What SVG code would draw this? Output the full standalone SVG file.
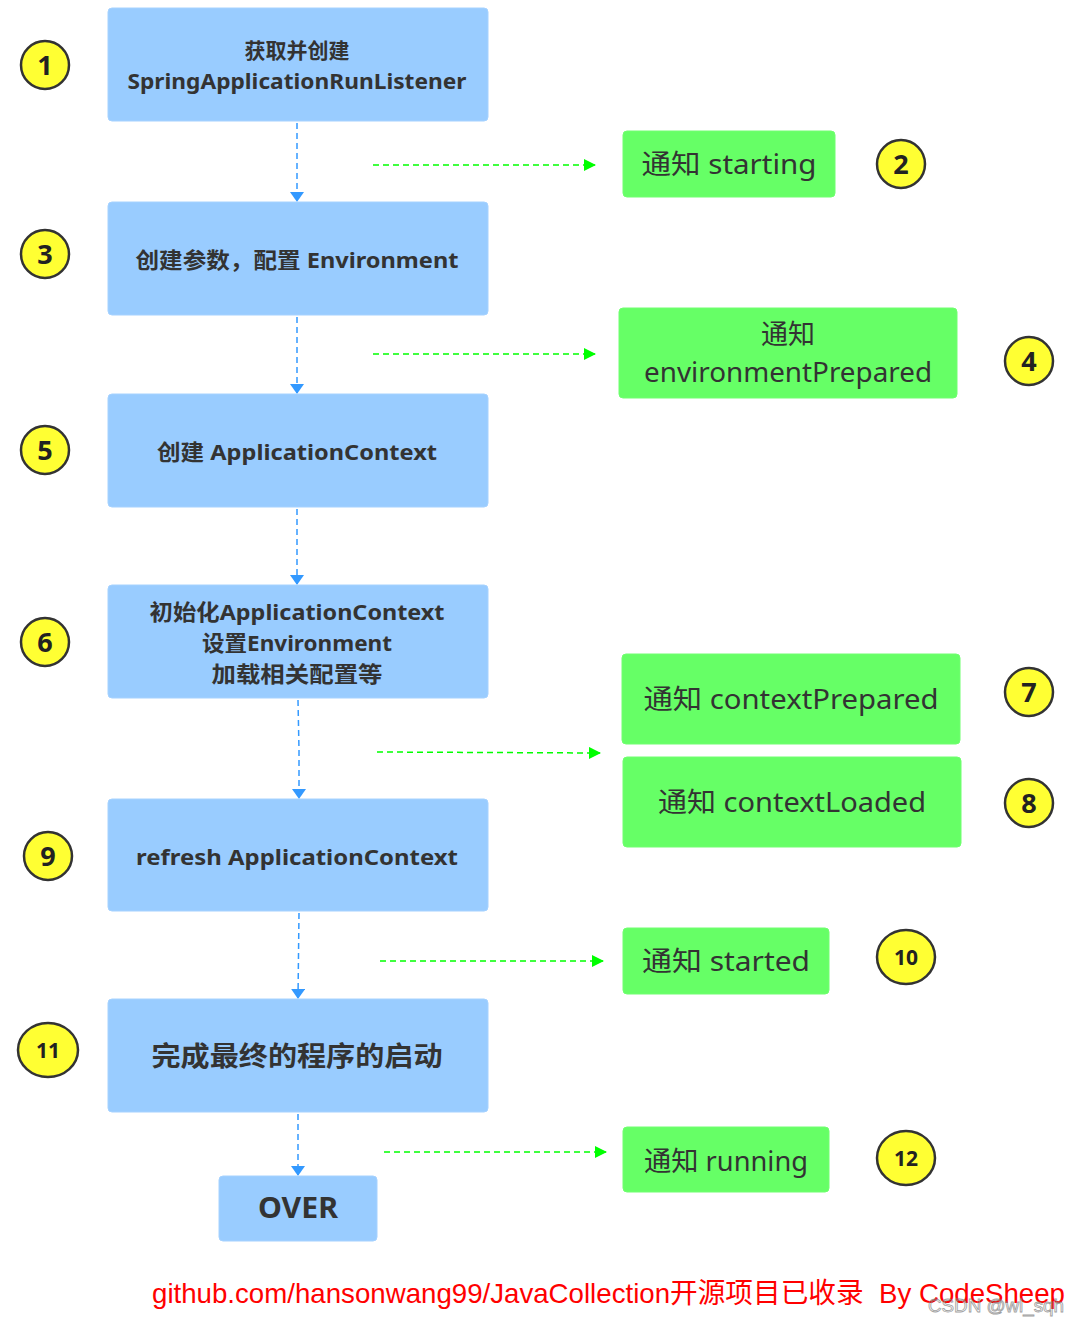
<svg xmlns="http://www.w3.org/2000/svg" width="1080" height="1322" viewBox="0 0 1080 1322">
<style>
.blue{fill:#99CCFF;stroke:#A6D2FF;stroke-width:1}
.green{fill:#66FF66;stroke:#70FF70;stroke-width:1}
.num{fill:#FFFF33;stroke:#333333;stroke-width:2.5}
.bt{font-family:"Noto Sans","Noto Sans CJK SC",sans-serif;font-weight:bold;fill:#333333;text-anchor:middle}
.gt{font-family:"Noto Sans","Noto Sans CJK SC",sans-serif;fill:#333333;text-anchor:middle}
.nt{font-family:"Noto Sans","DejaVu Sans",sans-serif;font-weight:bold;fill:#222222;text-anchor:middle}
.vl{stroke:#3399FF;stroke-width:1.5;stroke-dasharray:6,4;fill:none}
.hl{stroke:#00FF00;stroke-width:1.5;stroke-dasharray:6,4;fill:none}
</style>
<defs>
<marker id="ab" viewBox="0 0 10 14" refX="9" refY="7" markerWidth="10" markerHeight="14" markerUnits="userSpaceOnUse" orient="auto">
<path d="M0,0 L10,7 L0,14 Z" fill="#3399FF"/>
</marker>
<marker id="ag" viewBox="0 0 12 12" refX="11" refY="6" markerWidth="12" markerHeight="12" markerUnits="userSpaceOnUse" orient="auto">
<path d="M0,0 L12,6 L0,12 Z" fill="#00FF00"/>
</marker>
</defs>
<rect width="1080" height="1322" fill="#FFFFFF"/>
<g id="connectors">
<line class="vl" x1="297" y1="123" x2="297" y2="201" marker-end="url(#ab)"/>
<line class="vl" x1="297" y1="317" x2="297" y2="393" marker-end="url(#ab)"/>
<line class="vl" x1="297" y1="509" x2="297" y2="584" marker-end="url(#ab)"/>
<path class="vl" d="M298,700 L299,750 L299,798" marker-end="url(#ab)"/>
<line class="vl" x1="299" y1="913" x2="298" y2="998" marker-end="url(#ab)"/>
<line class="vl" x1="298" y1="1114" x2="298" y2="1175" marker-end="url(#ab)"/>
<line class="hl" x1="373" y1="165" x2="595" y2="165" marker-end="url(#ag)"/>
<line class="hl" x1="373" y1="354" x2="595" y2="354" marker-end="url(#ag)"/>
<line class="hl" x1="377" y1="752" x2="600" y2="753" marker-end="url(#ag)"/>
<line class="hl" x1="380" y1="961" x2="603" y2="961" marker-end="url(#ag)"/>
<line class="hl" x1="384" y1="1152" x2="606" y2="1152" marker-end="url(#ag)"/>
</g>
<g id="node1"><rect class="blue" x="108" y="8" width="380" height="113" rx="4"/>
<text class="bt" x="297" y="58" font-size="21">获取并创建</text>
<text class="bt" x="297" y="89" font-size="22" textLength="339" lengthAdjust="spacingAndGlyphs">SpringApplicationRunListener</text></g>
<g id="node3"><rect class="blue" x="108" y="202" width="380" height="113" rx="4"/>
<text class="bt" x="297" y="268" font-size="22" textLength="323" lengthAdjust="spacingAndGlyphs">创建参数，配置 Environment</text></g>
<g id="node5"><rect class="blue" x="108" y="394" width="380" height="113" rx="4"/>
<text class="bt" x="297" y="460" font-size="22" textLength="280" lengthAdjust="spacingAndGlyphs">创建 ApplicationContext</text></g>
<g id="node6"><rect class="blue" x="108" y="585" width="380" height="113" rx="4"/>
<text class="bt" x="297" y="620" font-size="22" textLength="295" lengthAdjust="spacingAndGlyphs">初始化ApplicationContext</text>
<text class="bt" x="297" y="651" font-size="22" textLength="190" lengthAdjust="spacingAndGlyphs">设置Environment</text>
<text class="bt" x="297" y="682" font-size="22" textLength="171" lengthAdjust="spacingAndGlyphs">加载相关配置等</text></g>
<g id="node9"><rect class="blue" x="108" y="799" width="380" height="112" rx="4"/>
<text class="bt" x="297" y="865" font-size="22" textLength="322" lengthAdjust="spacingAndGlyphs">refresh ApplicationContext</text></g>
<g id="node11"><rect class="blue" x="108" y="999" width="380" height="113" rx="4"/>
<text class="bt" x="297" y="1066" font-size="27" textLength="291" lengthAdjust="spacingAndGlyphs">完成最终的程序的启动</text></g>
<g id="over"><rect class="blue" x="219" y="1176" width="158" height="65" rx="4"/>
<text class="bt" x="298" y="1218" font-size="28" textLength="80" lengthAdjust="spacingAndGlyphs">OVER</text></g>
<g id="starting"><rect class="green" x="623" y="131" width="212" height="66" rx="4"/>
<text class="gt" x="729" y="174" font-size="27" textLength="175" lengthAdjust="spacingAndGlyphs">通知 starting</text></g>
<g id="envPrepared"><rect class="green" x="619" y="308" width="338" height="90" rx="4"/>
<text class="gt" x="788" y="344" font-size="27">通知</text>
<text class="gt" x="788" y="382" font-size="27" textLength="288" lengthAdjust="spacingAndGlyphs">environmentPrepared</text></g>
<g id="contextPrepared"><rect class="green" x="622" y="654" width="338" height="90" rx="4"/>
<text class="gt" x="791" y="709" font-size="27" textLength="295" lengthAdjust="spacingAndGlyphs">通知 contextPrepared</text></g>
<g id="contextLoaded"><rect class="green" x="623" y="757" width="338" height="90" rx="4"/>
<text class="gt" x="792" y="812" font-size="27" textLength="268" lengthAdjust="spacingAndGlyphs">通知 contextLoaded</text></g>
<g id="started"><rect class="green" x="623" y="928" width="206" height="66" rx="4"/>
<text class="gt" x="726" y="971" font-size="27" textLength="168" lengthAdjust="spacingAndGlyphs">通知 started</text></g>
<g id="running"><rect class="green" x="623" y="1127" width="206" height="65" rx="4"/>
<text class="gt" x="726" y="1171" font-size="27" textLength="164" lengthAdjust="spacingAndGlyphs">通知 running</text></g>
<g id="n1"><circle class="num" cx="45" cy="65" r="24"/><text class="nt" x="45" y="75" font-size="27">1</text></g>
<g id="n2"><circle class="num" cx="901" cy="164" r="24"/><text class="nt" x="901" y="174" font-size="27">2</text></g>
<g id="n3"><circle class="num" cx="45" cy="254" r="24"/><text class="nt" x="45" y="264" font-size="27">3</text></g>
<g id="n4"><circle class="num" cx="1029" cy="361" r="24"/><text class="nt" x="1029" y="371" font-size="27">4</text></g>
<g id="n5"><circle class="num" cx="45" cy="450" r="24"/><text class="nt" x="45" y="460" font-size="27">5</text></g>
<g id="n6"><circle class="num" cx="45" cy="642" r="24"/><text class="nt" x="45" y="652" font-size="27">6</text></g>
<g id="n7"><circle class="num" cx="1029" cy="692" r="24"/><text class="nt" x="1029" y="702" font-size="27">7</text></g>
<g id="n8"><circle class="num" cx="1029" cy="803" r="24"/><text class="nt" x="1029" y="813" font-size="27">8</text></g>
<g id="n9"><circle class="num" cx="48" cy="856" r="24"/><text class="nt" x="48" y="866" font-size="27">9</text></g>
<g id="n10"><ellipse class="num" cx="906" cy="957" rx="29" ry="27"/><text class="nt" x="906" y="965" font-size="21">10</text></g>
<g id="n11"><ellipse class="num" cx="48" cy="1050" rx="30" ry="27"/><text class="nt" x="48" y="1058" font-size="21">11</text></g>
<g id="n12"><ellipse class="num" cx="906" cy="1158" rx="29" ry="27"/><text class="nt" x="906" y="1166" font-size="21">12</text></g>
<g id="footer">
<text x="152" y="1303" font-family="'Liberation Sans','Noto Sans CJK SC',sans-serif" font-size="28" fill="#FF0000" textLength="913" lengthAdjust="spacingAndGlyphs">github.com/hansonwang99/JavaCollection开源项目已收录&#160; By CodeSheep</text>
<text x="928" y="1312" font-family="'Liberation Sans',sans-serif" font-size="18" fill="none" stroke="#888888" stroke-width="0.8" opacity="0.8" textLength="136" lengthAdjust="spacingAndGlyphs">CSDN @wl_sqh</text>
</g>
</svg>
